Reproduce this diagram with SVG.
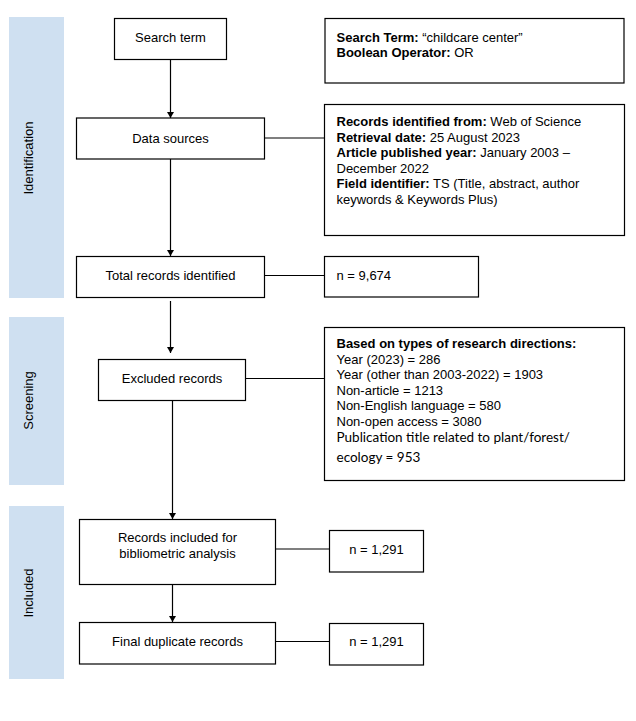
<svg xmlns="http://www.w3.org/2000/svg" width="636" height="721" viewBox="0 0 636 721">
<defs>
<marker id="arr" markerUnits="userSpaceOnUse" markerWidth="8" markerHeight="8" refX="6" refY="3.5" orient="auto">
<path d="M0,0 L6,3.5 L0,7 Z" fill="#000"/>
</marker>
<style>
.band{fill:#cfe0f1;stroke:none}
.box{fill:#fff;stroke:#000;stroke-width:1.2}
.t{font-family:"Liberation Sans",Arial,sans-serif;font-size:13px;fill:#000}
.c{text-anchor:middle}
.b{font-weight:bold}
.cal{font-family:Lato,"Liberation Sans",sans-serif;font-size:13.5px;fill:#000}
.ln{stroke:#000;stroke-width:1.2;fill:none}
</style>
</defs>
<rect width="636" height="721" fill="#fff"/>
<g id="phase-identification">
<rect class="band" x="9" y="17" width="55" height="281"/>
<text class="t c" transform="translate(33,158) rotate(-90)">Identification</text>
</g>
<g id="phase-screening">
<rect class="band" x="9" y="317" width="55" height="168"/>
<text class="t c" transform="translate(33,400.5) rotate(-90)">Screening</text>
</g>
<g id="phase-included">
<rect class="band" x="9" y="506" width="55" height="173"/>
<text class="t c" transform="translate(33,593) rotate(-90)">Included</text>
</g>
<g id="connectors">
<line class="ln" x1="170.5" y1="59" x2="170.5" y2="118" marker-end="url(#arr)"/>
<line class="ln" x1="170.5" y1="159" x2="170.5" y2="256" marker-end="url(#arr)"/>
<line class="ln" x1="170.5" y1="301" x2="170.5" y2="353" marker-end="url(#arr)"/>
<line class="ln" x1="172.5" y1="400" x2="172.5" y2="519" marker-end="url(#arr)"/>
<line class="ln" x1="172.5" y1="584" x2="172.5" y2="622" marker-end="url(#arr)"/>
<line class="ln" x1="265" y1="138" x2="324" y2="138"/>
<line class="ln" x1="265" y1="275.5" x2="324" y2="275.5"/>
<line class="ln" x1="246" y1="378.5" x2="324" y2="378.5"/>
<line class="ln" x1="275" y1="549" x2="329" y2="549"/>
<line class="ln" x1="275" y1="641.5" x2="329" y2="641.5"/>
</g>
<g id="search-term">
<rect class="box" x="114.5" y="18.5" width="112" height="41"/>
<text class="t c" x="170.5" y="42">Search term</text>
</g>
<g id="search-term-info">
<rect class="box" x="325" y="18.5" width="299" height="64.5"/>
<text class="t" x="336.5" y="41.5"><tspan class="b">Search Term:</tspan> &#8220;childcare center&#8221;</text>
<text class="t" x="336.5" y="57"><tspan class="b">Boolean Operator:</tspan> OR</text>
</g>
<g id="data-sources">
<rect class="box" x="76.5" y="118" width="188" height="41"/>
<text class="t c" x="170.5" y="142.5">Data sources</text>
</g>
<g id="data-sources-info">
<rect class="box" x="324.5" y="104.5" width="300" height="131"/>
<text class="t" x="336.5" y="126"><tspan class="b">Records identified from:</tspan> Web of Science</text>
<text class="t" x="336.5" y="141.5"><tspan class="b">Retrieval date:</tspan> 25 August 2023</text>
<text class="t" x="336.5" y="157"><tspan class="b">Article published year:</tspan> January 2003 &#8211;</text>
<text class="t" x="336.5" y="172.5">December 2022</text>
<text class="t" x="336.5" y="188"><tspan class="b">Field identifier:</tspan> TS (Title, abstract, author</text>
<text class="t" x="336.5" y="203.5">keywords &amp; Keywords Plus)</text>
</g>
<g id="total-records">
<rect class="box" x="76.5" y="256.5" width="188" height="41"/>
<text class="t c" x="170.5" y="280">Total records identified</text>
</g>
<g id="total-records-n">
<rect class="box" x="324.5" y="256.5" width="154" height="40.5"/>
<text class="t" x="336.5" y="280">n = 9,674</text>
</g>
<g id="excluded-records">
<rect class="box" x="98.5" y="359.5" width="147" height="41"/>
<text class="t c" x="172" y="383">Excluded records</text>
</g>
<g id="excluded-info">
<rect class="box" x="324.5" y="327.5" width="300" height="153"/>
<text class="t b" x="336.5" y="348">Based on types of research directions:</text>
<text class="t" x="336.5" y="363.5">Year (2023) = 286</text>
<text class="t" x="336.5" y="379">Year (other than 2003-2022)  = 1903</text>
<text class="t" x="336.5" y="394.5">Non-article = 1213</text>
<text class="t" x="336.5" y="410">Non-English language  = 580</text>
<text class="t" x="336.5" y="425.5">Non-open access = 3080</text>
<text class="cal" x="336.5" y="442">Publication title related to plant/forest/</text>
<text class="cal" x="336.5" y="461.5">ecology = 953</text>
</g>
<g id="records-included">
<rect class="box" x="79.5" y="519.5" width="196" height="65"/>
<text class="t c" x="177.5" y="542">Records included for</text>
<text class="t c" x="177.5" y="558">bibliometric analysis</text>
</g>
<g id="records-included-n">
<rect class="box" x="329.5" y="530.5" width="94" height="41.5"/>
<text class="t c" x="376.5" y="553.5">n = 1,291</text>
</g>
<g id="final-duplicate">
<rect class="box" x="79.5" y="622.5" width="196" height="41.5"/>
<text class="t c" x="177.5" y="646">Final duplicate records</text>
</g>
<g id="final-duplicate-n">
<rect class="box" x="329.5" y="623.5" width="94" height="41.5"/>
<text class="t c" x="376.5" y="646">n = 1,291</text>
</g>
</svg>
